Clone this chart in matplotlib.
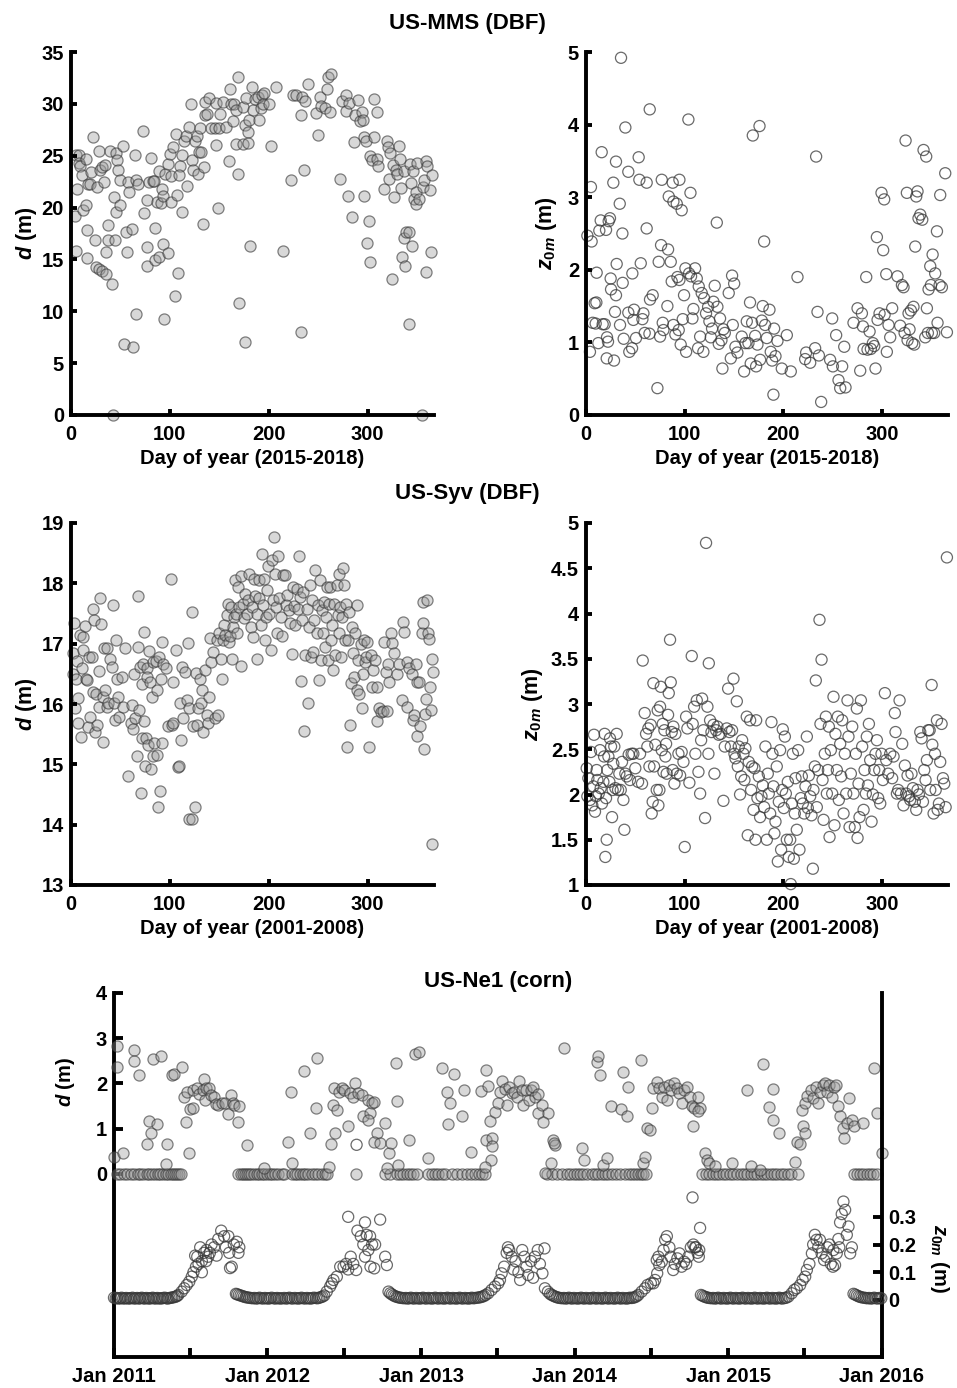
import numpy as np
import matplotlib
matplotlib.use('Agg')
import matplotlib.pyplot as plt
import matplotlib.dates as mdates
from datetime import datetime

plt.rcParams['font.family'] = ['Liberation Sans', 'DejaVu Sans']
plt.rcParams['font.weight'] = 'bold'
plt.rcParams['mathtext.fontset'] = 'custom'
plt.rcParams['mathtext.it'] = 'Liberation Sans:italic:bold'
plt.rcParams['mathtext.rm'] = 'Liberation Sans:bold'
plt.rcParams['mathtext.bf'] = 'Liberation Sans:bold'

# ---- US-MMS (DBF): (day of year, d [m])
mms_d = [
    (4, 19.2), (5.4, 15.8), (6.4, 21.8), (5, 25.1), (8.4, 25.1), (8, 24.3), (9, 24.0), (11.4, 23.1), (12, 19.8), (15, 24.7),
    (14.8, 20.2), (16.5, 17.8), (16.5, 15.1), (17.5, 22.3), (19, 22.3), (20, 23.4), (22.6, 26.8), (24.6, 16.9), (25.6, 14.3), (26.6, 22.0),
    (28.3, 25.5), (29.3, 23.6), (28.6, 14.1), (31.3, 13.9), (31.6, 23.9), (33.3, 22.5), (34.7, 24.1), (35.4, 13.6), (35.4, 15.7), (37.7, 18.3),
    (37, 16.9), (39.4, 25.5), (41.8, 12.6), (42.8, 0), (43.4, 21.0), (44.4, 16.9), (45, 19.6), (46, 25.3), (46.7, 24.6), (47.8, 23.6),
    (49.5, 22.7), (50, 20.2), (52.9, 25.9), (54, 6.8), (55.2, 17.6), (56.2, 15.7), (57.2, 22.5), (59, 21.5), (61.6, 17.9), (62.3, 6.6),
    (64.6, 25.1), (65.7, 9.7), (65.3, 22.7), (68, 22.3), (73, 27.4), (74, 19.5), (76.4, 20.7), (77, 16.2), (76.4, 14.4), (78.8, 22.5),
    (80.5, 24.8), (82.5, 22.6), (83.8, 22.6), (85, 18.0), (85, 14.9), (86.9, 20.5), (88.6, 15.2), (89.2, 23.5), (90.9, 20.4), (92.3, 21.8),
    (92.6, 16.5), (93.3, 21.1), (94, 9.3), (95.3, 23.2), (97.6, 24.2), (98.3, 15.6), (99.7, 25.2), (100.7, 20.5), (102.7, 25.8), (101, 23.0),
    (104.7, 11.5), (106, 27.1), (106.7, 21.2), (108.4, 13.7), (110, 24.0), (109.4, 23.1), (112, 19.6), (112.5, 25.1), (114.5, 26.4), (115.8, 26.9),
    (117.2, 22.1), (119, 27.8), (121, 30.0), (122.2, 24.6), (123, 23.6), (125, 26.4), (127, 26.9), (128, 23.2), (129.6, 25.4), (131.3, 25.4),
    (130.3, 27.7), (133.3, 18.4), (134.3, 23.9), (135, 28.9), (135.7, 30.2), (137.7, 29.0), (139.7, 30.6), (141.8, 27.7), (145.5, 27.7), (146.5, 26.0),
    (147, 30.1), (149, 20.0), (149.8, 27.7), (150.8, 29.0), (153.9, 30.2), (157, 27.8), (159.6, 24.5), (160.6, 31.4), (162, 30.0), (164, 28.3),
    (165.3, 30.0), (166.7, 26.1), (167.3, 29.4), (168.4, 32.6), (169, 23.2), (169.4, 10.8), (174, 26.1), (174, 29.7), (176, 7.0), (176, 28.0),
    (177.4, 30.6), (178.8, 27.3), (178.8, 26.2), (179.5, 28.4), (180.8, 16.3), (182.5, 31.6), (184.2, 29.4), (186.2, 30.5), (189, 30.7), (189.6, 28.4),
    (191.6, 29.6), (192.6, 30.9), (194.3, 30.0), (195.3, 31.0), (199.7, 30.0), (202.7, 25.9), (207.7, 31.6), (214.5, 15.8), (222.9, 22.7), (224.6, 30.9),
    (227.3, 30.9), (232.7, 28.9), (232.7, 8.0), (233.3, 30.7), (235.4, 23.6), (236.4, 30.3), (239.7, 31.9), (248, 29.1), (249.8, 27.0), (251.5, 30.7),
    (253, 29.8), (256.6, 29.6), (259, 31.4), (260, 32.6), (261.6, 29.2), (263.3, 32.9), (271.7, 22.8), (274.4, 30.3), (277.8, 30.9), (278.5, 29.3),
    (280, 21.1), (281, 30.1), (284.2, 19.1), (285.9, 26.3), (286.9, 28.9), (290.3, 30.4), (291.9, 28.3), (294.3, 29.2), (295.3, 28.4), (296.3, 21.1),
    (296.3, 26.8), (298, 26.4), (299.3, 16.6), (301, 18.7), (302, 25.0), (302, 14.8), (304, 24.6), (306, 30.5), (306, 26.8), (309, 24.7),
    (309, 29.2), (310.6, 24.0), (316, 21.8), (319, 26.4), (320, 25.8), (322, 22.8), (323, 25.3), (325, 13.1), (325.6, 24.1), (326.3, 21.0),
    (328.3, 23.6), (330, 23.2), (331.6, 25.9), (332.3, 24.7), (333.7, 21.9), (335, 15.2), (336.4, 17.1), (337, 23.5), (337.7, 14.4), (339, 17.6),
    (341.8, 8.8), (341.8, 17.6), (343, 24.2), (344, 22.4), (344.5, 16.3), (345.8, 23.5), (346.8, 20.8), (348.5, 20.3), (349, 21.5), (350, 24.3),
    (351.8, 20.8), (355, 0), (356, 22.0), (357, 22.7), (358.6, 13.8), (359, 24.5), (359.9, 24.0), (362.6, 21.7), (364.3, 15.7), (365, 23.1),
]

# ---- US-MMS (DBF): (day of year, z0m [m])
mms_z = [
    (1.4, 2.47), (4, 0.87), (5, 3.14), (5.7, 2.39), (6.8, 1.27), (8.8, 1.54), (9.8, 1.26), (10.8, 1.96), (10.5, 1.55), (12.5, 0.99),
    (13.5, 2.54), (14.9, 2.68), (15.9, 3.62), (16.9, 1.25), (18.9, 1.25), (20.3, 2.55), (21, 0.78), (21.3, 1.07), (22.3, 1.01), (23, 2.67),
    (24.3, 2.71), (25, 1.88), (25.4, 1.73), (27.7, 3.20), (28.4, 0.75), (29.4, 1.42), (30.4, 3.49), (30.4, 1.65), (31.1, 2.08), (34.2, 2.91),
    (34.5, 1.24), (35.5, 4.92), (36.9, 2.50), (37.2, 1.82), (38.2, 1.05), (39.9, 3.96), (42.9, 3.35), (42.9, 1.41), (43.9, 0.87), (46.7, 0.92),
    (47, 1.95), (48, 1.31), (48.7, 1.45), (50.7, 1.06), (53.4, 3.55), (54.1, 3.24), (55.5, 2.09), (57.2, 1.32), (58.2, 1.40), (59.5, 1.13),
    (61.5, 3.20), (61.5, 2.57), (64.3, 1.12), (64.6, 4.21), (64.9, 1.59), (67.6, 1.65), (72.4, 0.37), (73.7, 2.11), (75.1, 1.08), (76.1, 2.34),
    (76.8, 3.24), (77.8, 1.27), (78.5, 1.17), (82.5, 1.50), (83.2, 2.28), (83.9, 3.01), (85.9, 2.11), (86.9, 1.84), (87.9, 3.20), (88.6, 2.94),
    (88.6, 1.24), (90.6, 1.11), (92, 2.91), (92.7, 1.90), (94, 1.17), (94.7, 3.24), (94.7, 1.86), (96, 0.97), (97, 2.82), (98.1, 1.32),
    (99.4, 1.65), (100.8, 2.02), (101.5, 0.87), (103.8, 4.07), (104.5, 1.95), (105.9, 3.06), (106.5, 1.91), (107.9, 1.33), (108.9, 1.46), (110.6, 2.02),
    (112.3, 1.88), (113.6, 0.92), (114.3, 1.77), (115.7, 1.08), (117.3, 1.68), (119, 0.87), (119.7, 1.61), (121.7, 1.40), (123.8, 1.49), (125.1, 1.29),
    (126.5, 1.07), (127.8, 1.19), (129.2, 1.56), (130.5, 1.78), (132.6, 2.65), (133.2, 1.49), (134.6, 0.98), (135.9, 1.33), (137.3, 1.03), (138.3, 0.64),
    (139.3, 1.18), (140.7, 1.13), (144.7, 1.68), (146.8, 0.78), (148.1, 1.92), (148.8, 1.24), (150.2, 1.81), (151.5, 0.94), (153.5, 0.86), (157.9, 1.08),
    (160.3, 0.60), (161.6, 0.99), (163, 1.29), (164.7, 0.99), (166.3, 1.55), (167, 0.71), (168.4, 1.27), (169.1, 3.85), (171.5, 1.09), (172.5, 0.67),
    (173.8, 0.97), (175.9, 3.98), (176.5, 0.76), (178.2, 1.30), (179.2, 1.50), (180.6, 2.39), (181.6, 1.24), (183.3, 1.06), (186, 1.45), (187.3, 0.87),
    (188.7, 0.75), (190, 0.28), (190.7, 1.19), (192.1, 0.81), (194.1, 1.02), (198.5, 0.64), (203.6, 1.10), (207.6, 0.60), (214.4, 1.90), (222.2, 0.77),
    (223.2, 0.86), (227.3, 0.72), (232.3, 0.92), (233.3, 3.56), (234.7, 1.42), (236.1, 0.82), (238.4, 0.18), (247.5, 0.76), (249.6, 1.33), (250.3, 0.67),
    (253.6, 1.10), (256, 0.48), (257.7, 0.37), (259.7, 0.67), (261.8, 0.94), (263.1, 0.38), (271.2, 1.27), (275.3, 1.47), (278, 0.61), (279.7, 1.40),
    (280.7, 1.22), (281.4, 0.91), (284.1, 1.90), (285.4, 0.90), (287.5, 1.15), (288.8, 0.91), (290.8, 0.99), (292.2, 0.95), (293.5, 0.64), (294.9, 2.45),
    (295.6, 1.31), (297.6, 1.40), (299.6, 3.06), (301.3, 2.27), (302.3, 2.97), (302.7, 1.38), (304.4, 1.94), (305, 0.87), (306.7, 1.24), (308.4, 1.07),
    (310.4, 1.47), (315.8, 1.91), (318.5, 1.23), (320.3, 1.79), (321.9, 1.76), (323, 1.13), (324, 3.78), (325.3, 3.06), (326, 1.03), (327, 1.40),
    (328, 1.18), (329.4, 1.44), (330.7, 0.99), (332, 1.49), (332.8, 0.97), (333.8, 2.32), (334.8, 3.01), (336.1, 3.08), (337.1, 2.71), (338.9, 2.76),
    (340.9, 2.69), (342.2, 3.65), (343.9, 1.07), (344.9, 3.56), (345.6, 1.47), (346.6, 1.13), (347.3, 1.73), (349, 2.05), (349.7, 1.79), (350.7, 1.13),
    (351.4, 2.21), (353, 1.13), (354, 1.95), (355.8, 2.53), (356.4, 1.27), (358.5, 1.79), (359.1, 3.03), (360.8, 1.76), (364.2, 3.33), (365.9, 1.14),
]

# ---- US-Syv (DBF): (day of year, d [m])
syv_d = [
    (1.7, 16.85), (3, 17.35), (1.7, 16.5), (4, 15.94), (5, 16.42), (5.7, 16.71), (7.4, 15.68), (7.4, 16.10), (9, 17.14), (10, 15.46),
    (10.8, 16.6), (11.8, 17.11), (12.5, 16.89), (14, 17.29), (15.2, 16.42), (16.5, 16.39), (17.5, 15.62), (18.5, 16.78), (19.2, 15.79), (21, 16.78),
    (22, 17.58), (22.6, 16.2), (23.3, 17.39), (24.3, 15.54), (25.3, 16.17), (26.6, 15.65), (28, 16.55), (28.6, 15.95), (29.3, 17.76), (30, 17.32),
    (32, 16.12), (32.7, 15.37), (33.7, 16.92), (34.4, 16.24), (36, 16.92), (36.7, 15.95), (37.7, 16.01), (39.4, 16.75), (41, 16.62), (42, 17.64),
    (43.5, 16.01), (44.5, 15.73), (45.5, 17.06), (46.2, 16.42), (47.2, 16.11), (48.9, 15.79), (52, 16.45), (53, 15.95), (54.6, 16.92), (58, 14.81),
    (60.3, 15.68), (61.3, 15.98), (63, 15.58), (64, 16.5), (64.7, 15.77), (66.4, 15.14), (67.4, 17.79), (68, 16.95), (69, 15.9), (69.8, 16.62),
    (70.8, 14.52), (71.5, 16.33), (72, 15.44), (73, 16.67), (73.8, 15.71), (74, 17.2), (75, 14.97), (75.8, 15.43), (76.5, 16.6), (77.2, 16.45),
    (78.2, 15.32), (79.2, 16.88), (80, 16.37), (80.9, 14.93), (81.6, 16.12), (82.6, 15.14), (83.2, 16.7), (84.3, 15.35), (86, 16.72), (86.6, 16.23),
    (87.3, 15.16), (88.3, 14.3), (89.3, 16.78), (90, 14.56), (90.7, 16.41), (91.7, 17.03), (92.3, 15.36), (93.4, 16.67), (96, 16.59), (98.4, 15.64),
    (101, 18.08), (101.8, 15.65), (103.5, 15.68), (103.5, 16.37), (106, 16.9), (107.9, 14.96), (109.2, 14.97), (110.2, 16.01), (111.2, 15.4), (112.2, 16.62),
    (112.9, 15.76), (115.3, 16.53), (117, 16.07), (118, 17.01), (119.3, 15.93), (119.6, 14.1), (122, 17.53), (122, 14.1), (123.7, 15.64), (125.4, 14.3),
    (126, 16.51), (127, 15.65), (128.7, 15.93), (130.4, 16.42), (131.4, 16.01), (132.8, 16.24), (133.8, 15.54), (135.5, 16.57), (137.2, 15.82), (138.9, 15.68),
    (139.9, 16.11), (140.5, 17.1), (141.9, 16.7), (143.2, 16.86), (145.6, 15.76), (147.3, 17.06), (149, 15.82), (150, 17.18), (151.3, 16.74), (153, 16.41),
    (154, 17.06), (155, 17.31), (156, 17.15), (157.4, 17.47), (158.4, 17.65), (159.4, 17.03), (160.8, 17.13), (161.8, 17.61), (162.8, 16.74), (163.5, 17.28),
    (164.8, 17.44), (165.5, 18.05), (166.8, 17.5), (167.5, 17.17), (168.9, 17.94), (170.2, 17.61), (171.6, 16.63), (172.2, 18.12), (173.6, 17.66), (174.9, 17.42),
    (176.3, 17.83), (177.6, 17.5), (179, 17.73), (180.3, 18.16), (181.7, 17.28), (183, 17.61), (184.4, 17.11), (185.4, 18.08), (186.4, 17.79), (187.7, 16.75),
    (188.4, 17.5), (189.8, 18.05), (190.4, 17.75), (191.8, 17.31), (192.8, 18.48), (193.8, 17.64), (195.1, 18.08), (196.2, 17.06), (197.2, 17.44), (198.5, 17.89),
    (199.5, 18.28), (200.5, 17.5), (201.9, 16.9), (202.9, 18.38), (203.9, 17.72), (205.3, 18.76), (206.3, 18.16), (207.3, 17.61), (208.6, 17.18), (209.6, 18.45),
    (210.6, 17.75), (212, 17.44), (213, 17.12), (214, 18.13), (216.4, 18.13), (217.4, 17.64), (218.7, 17.8), (220, 17.55), (221.4, 17.34), (223.1, 16.83),
    (224.1, 17.94), (225.5, 17.63), (226.8, 17.31), (228.2, 17.91), (229.2, 17.57), (230.9, 18.45), (231.5, 17.78), (232.6, 16.38), (233.6, 17.39), (234.9, 17.85),
    (235.9, 15.56), (236.9, 16.81), (238.3, 17.58), (239.6, 16.01), (240.6, 17.28), (241.7, 17.98), (243, 16.78), (244, 17.72), (245, 16.86), (246, 17.39),
    (247, 18.22), (248.4, 17.17), (249.4, 17.64), (250.4, 16.4), (251.4, 18.05), (252.4, 16.73), (253.5, 17.55), (254.5, 17.17), (255.8, 17.69), (256.8, 16.95),
    (257.8, 17.44), (259.2, 17.94), (260.2, 16.73), (261.2, 17.65), (261.9, 17.94), (263.2, 17.06), (264.2, 17.31), (265.3, 16.57), (266.3, 17.65), (267.3, 16.81),
    (268.6, 17.97), (269.6, 17.47), (270.6, 18.16), (271.3, 17.18), (272, 17.61), (273, 16.78), (274, 17.44), (275.4, 18.26), (276, 17.97), (277, 17.06),
    (278.1, 17.65), (278.7, 15.29), (279.7, 17.06), (280.8, 17.53), (282.1, 15.65), (283.1, 16.34), (284.1, 17.28), (285.5, 16.84), (286.5, 16.45), (287.5, 17.17),
    (288.8, 16.23), (289.5, 17.64), (290.5, 16.73), (291.5, 16.17), (292.9, 17.0), (293.9, 15.93), (294.9, 16.5), (296.3, 17.06), (297.3, 16.7), (298.3, 16.78),
    (299, 17.03), (301.6, 15.29), (303, 16.81), (304.3, 16.28), (305.7, 16.56), (307.4, 16.73), (309, 16.28), (309.7, 15.71), (311.7, 15.93), (313.1, 15.87),
    (315.1, 15.89), (316.5, 17.03), (318.2, 16.53), (319.2, 15.89), (320.2, 16.67), (321.9, 16.37), (323.2, 17.17), (324.6, 17.01), (326.6, 16.84), (329.3, 16.5),
    (332, 16.67), (334.3, 16.06), (336, 17.36), (337, 17.2), (339.4, 16.7), (340, 15.95), (342, 16.59), (344.5, 16.5), (345.5, 15.73), (347.2, 15.82),
    (348.8, 16.67), (349.5, 16.37), (350.2, 15.47), (351.5, 16.37), (352.9, 15.63), (354.6, 17.17), (355.6, 17.34), (356.3, 17.69), (356.9, 15.25), (357.6, 15.84),
    (359, 16.09), (360.3, 17.72), (361, 17.17), (362, 17.07), (363, 16.28), (363.7, 15.9), (365, 13.68), (365, 16.75), (365.7, 16.53),
]

# ---- US-Syv (DBF): (day of year, z0m [m])
syv_z = [
    (0.7, 2.29), (1.4, 1.98), (2.4, 2.18), (4, 1.94), (5, 2.47), (6.4, 1.88), (7.4, 2.09), (8.1, 2.66), (9.1, 1.81), (10.1, 1.98),
    (10.8, 2.27), (11.5, 2.16), (12.9, 2.01), (14.2, 2.49), (14.9, 2.07), (16.2, 1.9), (17.6, 2.14), (18.3, 2.42), (18.9, 2.67), (19.6, 1.31),
    (20.3, 1.96), (21, 1.5), (21.6, 2.27), (22.7, 2.42), (23.7, 2.14), (24.3, 2.62), (25.4, 2.53), (26.4, 1.75), (27, 2.05), (27.7, 2.34),
    (28.7, 2.53), (29.8, 2.07), (31.1, 2.67), (32.5, 2.05), (33.8, 2.23), (35.2, 2.05), (36.5, 2.36), (37.9, 1.94), (38.9, 1.61), (39.9, 2.23),
    (41.3, 2.2), (43.3, 2.44), (44.6, 2.16), (46.3, 2.45), (48, 2.45), (50, 2.29), (52.8, 2.14), (54.8, 2.45), (56.8, 2.12), (57.5, 3.48),
    (59.5, 2.9), (60.9, 2.67), (62.2, 2.53), (63.2, 2.73), (64.3, 2.31), (65.6, 2.77), (66.6, 1.79), (67.6, 1.92), (68.3, 3.23), (69, 2.31),
    (70.3, 2.55), (71.7, 2.05), (72.7, 2.93), (73.4, 1.88), (74.4, 2.05), (75.1, 2.97), (75.8, 3.19), (76.8, 2.49), (77.8, 2.78), (78.5, 2.25),
    (79.5, 2.71), (80.5, 2.42), (81.2, 2.56), (81.8, 2.23), (83.2, 2.88), (83.9, 3.12), (85.2, 3.71), (85.9, 3.24), (86.9, 2.69), (87.9, 2.27),
    (88.6, 2.75), (89.6, 2.12), (90.6, 2.67), (92, 2.23), (93.7, 2.45), (95.4, 2.21), (97, 2.47), (98.8, 2.36), (100.1, 1.42), (101.5, 2.86),
    (102.8, 2.73), (104.8, 2.13), (107.2, 3.53), (108.2, 2.78), (109.6, 2.97), (110.9, 2.45), (112.3, 3.04), (114, 2.25), (115.7, 2.01), (116.7, 2.6),
    (117.7, 3.06), (119, 2.71), (120.7, 1.74), (121.7, 4.78), (123.1, 2.97), (124.1, 2.45), (124.5, 3.45), (125.8, 2.82), (127.2, 2.69), (129.2, 2.77),
    (130.2, 2.23), (131.9, 2.71), (133.2, 2.75), (134.6, 2.66), (136.6, 2.67), (139.3, 1.93), (140.7, 2.53), (142.7, 2.73), (144.1, 3.17), (145.4, 2.69),
    (146.8, 2.53), (148.1, 2.71), (149.5, 3.28), (150.5, 2.45), (151.5, 2.4), (152.9, 3.03), (153.9, 2.31), (154.9, 2.53), (156.2, 2.0), (157.3, 2.2),
    (158.3, 2.6), (159.6, 2.45), (160.6, 2.16), (161.6, 2.51), (163, 2.86), (164, 1.55), (165, 2.36), (166.4, 2.82), (167.4, 2.05), (168.4, 2.31),
    (169.8, 1.83), (170.8, 2.29), (171.8, 1.5), (172.5, 2.82), (173.8, 1.96), (175.2, 2.2), (176.5, 1.75), (177.9, 1.98), (179.2, 2.1), (180.6, 1.86),
    (181.9, 2.53), (183.3, 1.5), (184.3, 2.23), (185.3, 2.01), (186.7, 1.79), (188, 2.8), (189, 2.45), (190, 2.09), (191, 1.57), (192.1, 1.7),
    (193.4, 2.31), (194.5, 1.26), (195.5, 1.92), (196.8, 2.49), (197.8, 1.39), (198.8, 2.05), (199.5, 2.72), (200.5, 1.85), (201.6, 2.64), (202.6, 2.01),
    (203.6, 1.5), (204.6, 2.14), (205.6, 1.31), (207, 1.5), (207.6, 1.01), (208.7, 1.9), (209.7, 2.45), (210.7, 1.29), (211.7, 1.79), (212.4, 2.18),
    (213.7, 1.61), (215.1, 2.49), (216.4, 1.39), (217.8, 1.96), (218.8, 2.2), (219.8, 1.9), (221.2, 1.79), (222.5, 2.09), (223.9, 2.64), (224.9, 1.85),
    (225.9, 2.21), (227.3, 1.98), (228.6, 1.77), (230, 1.18), (230.6, 2.05), (232, 2.31), (233, 3.26), (234, 1.86), (235.4, 2.27), (236.7, 3.93),
    (237.7, 2.78), (238.8, 3.49), (239.8, 2.16), (240.8, 1.72), (242.1, 2.45), (243.2, 2.86), (244.2, 2.01), (245.2, 2.27), (246.2, 2.75), (246.9, 1.53),
    (248.2, 2.49), (249.6, 2.01), (250.9, 3.08), (251.9, 1.66), (252.9, 2.67), (254.3, 2.27), (255.3, 2.86), (256.3, 1.94), (257.7, 2.56), (258.7, 2.2),
    (259.7, 2.82), (261.1, 1.79), (262.4, 2.45), (263.8, 2.01), (265.1, 3.04), (266.1, 2.64), (267.2, 1.64), (268.5, 2.23), (269.9, 2.75), (271.2, 2.01),
    (272.6, 1.64), (273.6, 2.45), (274.6, 2.95), (275.3, 1.52), (276.3, 2.12), (277.3, 1.75), (278.7, 3.04), (280, 2.53), (281.4, 1.83), (282.4, 2.27),
    (283.7, 2.01), (284.7, 2.64), (285.8, 2.1), (286.8, 2.78), (288.1, 2.38), (289.5, 1.7), (290.8, 2.0), (292.2, 2.27), (293.5, 2.45), (294.9, 2.6),
    (296.2, 1.96), (297.3, 2.27), (298.3, 1.9), (299.6, 2.45), (301, 2.16), (303, 3.12), (304.4, 2.38), (306.4, 2.23), (308.4, 2.45), (310.4, 2.18),
    (311.8, 2.42), (313.1, 2.9), (313.8, 2.69), (315.2, 2.01), (316.5, 2.05), (317.9, 3.04), (319.2, 2.01), (320.6, 2.56), (321.9, 1.88), (323.3, 2.32),
    (324.6, 2.01), (326, 2.21), (327.4, 1.98), (328.7, 1.94), (330, 2.23), (331.4, 2.07), (333.4, 1.92), (334.8, 1.83), (336.1, 2.05), (337.5, 2.0),
    (338.9, 2.69), (340.2, 2.62), (341.6, 1.92), (342.9, 2.27), (344.3, 2.16), (345.6, 2.38), (347, 2.71), (348.4, 2.71), (349, 2.05), (350.4, 3.21),
    (351.1, 2.55), (352.4, 1.79), (353.8, 2.45), (354.5, 2.05), (355.8, 2.82), (356.5, 1.83), (357.8, 1.9), (359.1, 2.36), (360.5, 2.78), (361.9, 2.18),
    (363.2, 2.12), (364.6, 1.86), (365.9, 4.62),
]

# ---- US-Ne1 (corn): days since 1 Jan 2011
ne1_d = [
    (0, 0.38), (6, 2.36), (8, 2.83), (22, 0.46), (48, 2.73), (48, 2.5), (60, 2.19), (92, 2.54), (111, 2.6), (137, 2.19),
    (143, 2.21), (162, 2.37), (84, 1.18), (87, 0.91), (103, 1.1), (79, 0.66), (125, 0.66), (124, 0.22), (179, 0.47), (171, 1.14),
    (167, 1.71), (174, 1.82), (181, 1.43), (189, 1.45), (187, 1.86), (198, 1.9), (203, 1.77), (213, 2.1), (211, 1.86), (216, 1.64),
    (220, 1.9), (227, 1.9), (231, 1.75), (238, 1.71), (243, 1.55), (248, 1.52), (256, 1.56), (264, 1.56), (272, 1.33), (278, 1.75),
    (282, 1.56), (285, 1.52), (294, 1.14), (298, 1.49), (317, 0.64),
    (357, 0.12), (415, 0.71), (420, 1.8), (423, 0.24), (452, 2.28), (466, 0.91), (480, 1.45), (484, 2.56), (512, 0.16), (515, 0.66),
    (520, 1.53), (523, 1.9), (526, 0.9), (530, 1.42), (536, 1.8), (543, 1.9), (546, 1.86), (557, 1.05), (561, 1.79), (569, 1.71),
    (573, 2.02), (576, 0), (581, 1.79), (589, 1.75), (593, 1.27), (603, 1.64), (613, 1.56), (619, 1.6), (609, 1.34), (605, 1.19),
    (625, 0.91), (619, 0.71), (633, 0.69), (645, 1.12), (653, 0.46), (660, 0.68), (649, 0.13), (675, 0.2), (670, 2.45), (672, 1.62),
    (702, 0.75), (716, 2.64), (725, 2.7),
    (746, 0.36), (779, 2.34), (809, 2.21), (791, 1.82), (798, 1.56), (795, 1.11), (827, 1.28), (833, 1.86), (849, 0.49), (874, 1.84),
    (884, 2.29), (890, 1.95), (886, 0.74), (900, 0.79), (898, 0.62), (897, 0.3), (882, 0.16), (894, 1.16), (906, 1.36), (914, 1.56),
    (922, 2.06), (918, 1.82), (930, 1.87), (934, 1.53), (940, 1.93), (946, 1.78), (952, 1.82), (958, 1.71), (963, 2.06), (970, 1.86),
    (974, 1.53), (981, 1.86), (987, 1.64), (993, 1.86), (997, 1.93), (1001, 1.69), (1009, 1.77), (1008, 1.34), (1017, 1.53), (1032, 1.34),
    (1021, 1.14), (1045, 0.74), (1049, 0.64), (1039, 0.24), (1025, 0.01),
    (1047, 0.68), (1071, 2.78), (1112, 0.57), (1119, 0.31), (1150, 2.48), (1152, 2.61), (1156, 2.19), (1162, 0.2), (1172, 0.35), (1182, 1.5),
    (1207, 1.43), (1211, 2.26), (1219, 1.28), (1223, 1.93),
    (1253, 2.52), (1259, 0.25), (1263, 0.38), (1267, 1.01), (1275, 0.96), (1280, 1.45), (1283, 1.89), (1292, 2.04), (1297, 1.89), (1303, 1.71),
    (1308, 1.93), (1315, 1.64), (1321, 1.96), (1326, 1.86), (1332, 2.0), (1338, 1.89), (1345, 1.78), (1350, 1.56), (1356, 1.86), (1362, 1.93),
    (1369, 1.71), (1374, 1.49), (1380, 1.45), (1388, 1.71), (1394, 1.45), (1376, 1.05), (1390, 1.4), (1406, 0.46), (1410, 0.31), (1416, 0.24),
    (1430, 0.18), (1469, 0.24), (1514, 0.18), (1537, 0.09),
    (1505, 1.86), (1543, 2.43), (1557, 1.47), (1567, 1.87), (1568, 1.2), (1581, 0.9), (1620, 0.27), (1624, 0.71), (1632, 0.67), (1638, 1.05),
    (1644, 0.9), (1636, 1.41), (1644, 1.56), (1649, 1.73), (1657, 1.86), (1663, 1.67), (1670, 1.93), (1675, 1.56), (1679, 1.82), (1686, 1.96),
    (1691, 2.0), (1695, 1.82), (1701, 1.96), (1707, 1.71), (1713, 1.93), (1717, 1.96), (1723, 1.49), (1728, 1.28), (1733, 1.01), (1737, 0.79),
    (1743, 1.12), (1749, 1.67), (1755, 1.2), (1759, 1.05), (1782, 1.12), (1808, 2.34), (1814, 1.34), (1826, 0.47),
]

# days with d = 0 (bare soil)
ne1_d_zero_days = [
    6, 14, 23, 32, 40, 48, 58, 63, 70, 78, 84, 90, 97, 104, 109, 117, 124, 129, 135, 140, 145, 149, 154, 159,
    296, 301, 306, 312, 316, 322, 327, 333, 339, 346, 352, 357, 363, 370, 376, 383, 391, 399, 404,
    423, 430, 436, 442, 449, 455, 462, 470, 478, 486, 494, 502, 507,
    645, 656, 672, 680, 688, 696, 704, 712, 720, 748, 756, 764, 771, 779, 787,
    805, 815, 827, 839, 849, 859, 868, 876, 882,
    1029, 1041, 1053, 1065, 1077, 1085, 1093, 1101, 1108, 1116, 1124, 1136, 1144, 1152, 1160, 1168, 1176, 1184, 1193,
    1204, 1215, 1225, 1231, 1239, 1247, 1253, 1259, 1265,
    1398, 1408, 1416, 1424, 1432, 1440, 1448, 1456, 1465, 1473, 1483, 1491, 1499, 1506, 1514, 1522, 1530, 1538, 1546,
    1554, 1562, 1570, 1578, 1586, 1594, 1602, 1610, 1628,
    1759, 1767, 1775, 1782, 1790, 1798, 1806, 1814,
]

ne1_z = [
    # 2011
    (0, .008), (4, .006), (7, .007), (11, .005), (15, .006), (18, .008), (22, .005), (26, .006), (29, .007), (33, .005),
    (37, .006), (40, .006), (44, .008), (48, .005), (51, .006), (55, .007), (59, .005), (62, .006), (66, .008), (70, .006),
    (73, .005), (77, .007), (81, .006), (84, .005), (88, .006), (92, .008), (95, .006), (99, .005), (103, .007), (106, .006),
    (110, .005), (114, .006), (117, .007), (121, .008), (125, .006), (128, .005), (132, .007), (136, .008), (139, .009), (143, .010),
    (147, .012), (150, .014),
    (153, 0.018), (161, 0.03), (167, 0.042), (173, 0.054), (179, 0.066), (185, 0.084), (189, 0.1), (195, 0.12), (201, 0.13), (193, 0.16),
    (198, 0.156), (205, 0.19), (209, 0.14), (214, 0.17), (219, 0.14), (220, 0.18), (224, 0.156), (228, 0.17), (232, 0.2), (238, 0.19),
    (244, 0.16), (248, 0.22), (255, 0.25), (262, 0.23), (266, 0.19), (272, 0.23), (274, 0.17), (280, 0.12), (285, 0.2), (292, 0.21),
    (296, 0.17), (298, 0.19), (276, 0.115), (209, 0.1),
    (290, .022), (293, .020), (297, .018), (301, .016), (305, .014), (309, .012), (313, .010), (317, .009), (321, .008), (325, .007),
    (330, .006), (334, .007), (338, .005), (342, .006), (346, .008), (350, .006), (355, .005), (359, .007), (363, .006), (367, .005),
    (371, .006), (375, .008), (380, .006), (384, .005), (388, .007), (392, .006), (396, .005), (400, .006), (405, .007), (409, .005),
    (413, .006), (417, .008), (421, .006), (425, .005), (430, .007), (434, .006), (438, .005), (442, .006), (446, .008), (450, .006),
    (455, .005), (459, .007), (463, .006), (467, .005), (471, .006), (475, .008), (480, .007), (484, .006), (488, .008), (492, .010),
    (496, .012), (500, .016),
    # 2012
    (506, 0.03), (514, 0.048), (518, 0.06), (522, 0.072), (530, 0.084), (538, 0.12), (546, 0.12), (552, 0.13), (557, 0.11), (557, 0.3),
    (563, 0.156), (569, 0.13), (576, 0.108), (579, 0.25), (587, 0.23), (593, 0.2), (597, 0.156), (597, 0.28), (601, 0.235), (605, 0.18),
    (609, 0.23), (610, 0.12), (614, 0.2), (619, 0.114), (621, 0.2), (633, 0.29), (645, 0.156), (649, 0.126), (577, 0.56),
    (653, .030), (657, .024), (661, .020), (665, .016), (669, .013), (673, .011), (677, .009), (681, .008), (685, .007), (690, .006),
    (694, .007), (698, .005), (702, .006), (706, .008), (710, .006), (714, .005), (719, .007), (723, .006), (727, .005), (731, .006),
    (735, .008), (739, .006), (743, .005), (748, .007), (752, .006), (756, .005), (760, .006), (764, .008), (768, .006), (772, .005),
    (777, .007), (781, .006), (785, .005), (789, .006), (793, .008), (797, .006), (801, .005), (806, .007), (810, .006), (814, .005),
    (818, .006), (822, .008), (826, .006), (830, .005), (835, .007), (839, .006), (843, .005), (847, .006), (851, .008), (855, .006),
    (859, .007), (864, .008), (868, .009), (872, .010), (876, .012), (880, .014), (884, .018),
    # 2013
    (890, 0.024), (898, 0.036), (906, 0.048), (914, 0.06), (918, 0.072), (922, 0.096), (928, 0.12), (934, 0.17), (940, 0.18), (946, 0.156),
    (950, 0.11), (955, 0.14), (962, 0.1), (966, 0.072), (971, 0.18), (976, 0.156), (981, 0.12), (985, 0.09), (992, 0.14), (997, 0.08),
    (1001, 0.156), (1008, 0.18), (1013, 0.13), (1019, 0.096), (1024, 0.186), (1025, 0.042), (1032, 0.03), (1037, 0.022), (937, 0.19),
    (1041, .018), (1045, .015), (1049, .012), (1053, .010), (1057, .008), (1061, .007), (1066, .006), (1070, .007), (1074, .005), (1078, .006),
    (1082, .008), (1086, .006), (1090, .005), (1094, .007), (1099, .006), (1103, .005), (1107, .006), (1111, .008), (1115, .006), (1119, .005),
    (1123, .007), (1128, .006), (1132, .005), (1136, .006), (1140, .008), (1144, .006), (1148, .005), (1152, .007), (1157, .006), (1161, .005),
    (1165, .006), (1169, .008), (1173, .006), (1177, .005), (1181, .007), (1186, .006), (1190, .005), (1194, .006), (1198, .008), (1202, .006),
    (1206, .005), (1210, .007), (1215, .006), (1219, .005), (1223, .006), (1227, .008), (1231, .007), (1235, .008), (1239, .010), (1243, .013),
    # 2014
    (1247, 0.018), (1255, 0.03), (1263, 0.042), (1269, 0.054), (1277, 0.06), (1283, 0.06), (1287, 0.072), (1292, 0.096), (1297, 0.126), (1295, 0.156),
    (1291, 0.144), (1303, 0.138), (1307, 0.18), (1311, 0.217), (1315, 0.23), (1321, 0.19), (1324, 0.156), (1330, 0.108), (1334, 0.13), (1340, 0.15),
    (1345, 0.168), (1350, 0.12), (1356, 0.138), (1361, 0.13), (1366, 0.156), (1372, 0.19), (1378, 0.2), (1384, 0.19), (1388, 0.17), (1391, 0.156),
    (1376, 0.37), (1394, 0.26), (1382, 0.19), (1392, 0.18),
    (1396, .018), (1400, .015), (1404, .012), (1408, .010), (1412, .008), (1416, .007), (1421, .006), (1425, .007), (1429, .005), (1433, .006),
    (1437, .008), (1441, .006), (1445, .005), (1450, .007), (1454, .006), (1458, .005), (1462, .006), (1466, .008), (1470, .006), (1474, .005),
    (1479, .007), (1483, .006), (1487, .005), (1491, .006), (1495, .008), (1499, .006), (1503, .005), (1508, .007), (1512, .006), (1516, .005),
    (1520, .006), (1524, .008), (1528, .006), (1532, .005), (1537, .007), (1541, .006), (1545, .005), (1549, .006), (1553, .008), (1557, .006),
    (1561, .005), (1566, .007), (1570, .006), (1574, .005), (1578, .006), (1582, .008), (1586, .006), (1590, .005), (1595, .007), (1599, .008),
    # 2015
    (1604, 0.012), (1612, 0.024), (1618, 0.036), (1624, 0.042), (1632, 0.054), (1638, 0.072), (1644, 0.084), (1648, 0.108), (1654, 0.13), (1660, 0.168),
    (1663, 0.2), (1667, 0.235), (1671, 0.217), (1675, 0.19), (1679, 0.217), (1683, 0.168), (1689, 0.144), (1694, 0.156), (1697, 0.19), (1702, 0.2),
    (1705, 0.13), (1710, 0.12), (1715, 0.126), (1719, 0.168), (1723, 0.22), (1727, 0.28), (1731, 0.31), (1735, 0.355), (1739, 0.325), (1743, 0.235),
    (1747, 0.265), (1751, 0.168), (1755, 0.19), (1725, 0.19), (1711, 0.18),
    (1759, .022), (1763, .019), (1767, .016), (1771, .013), (1775, .011), (1779, .009), (1784, .008), (1788, .007), (1792, .006), (1796, .007),
    (1800, .005), (1804, .006), (1808, .008), (1812, .006), (1817, .005), (1821, .007), (1825, .006),
]

tick_dates = ['2011-01-01', '2011-07-01', '2012-01-01', '2012-07-01', '2013-01-01', '2013-07-01',
              '2014-01-01', '2014-07-01', '2015-01-01', '2015-07-01', '2016-01-01']
tick_labels = ['Jan 2011', '', 'Jan 2012', '', 'Jan 2013', '', 'Jan 2014', '', 'Jan 2015', '', 'Jan 2016']

# ---------------------------------------------------------------
FILL = dict(s=64, facecolors=(0.6, 0.6, 0.6, 0.38), edgecolors=(0.22, 0.22, 0.22, 0.62), linewidths=0.9)
OPEN = dict(s=64, facecolors='none', edgecolors=(0.22, 0.22, 0.22, 0.75), linewidths=0.9)
LW = 2.8
FS = 14.5

fig = plt.figure(figsize=(9.57, 13.88), dpi=100)


def px_axes(l, t, r, b):
    return fig.add_axes([l / 957, 1 - b / 1388, (r - l) / 957, (b - t) / 1388])


def style(ax, ticklen=4.5):
    ax.spines['top'].set_visible(False)
    ax.spines['right'].set_visible(False)
    ax.spines['left'].set_linewidth(LW)
    ax.spines['bottom'].set_linewidth(LW)
    ax.tick_params(direction='in', length=ticklen, width=LW, labelsize=FS, pad=5)
    ax.tick_params(axis='x', pad=7)


def doy_panel(ax, pts, kw, ylim, yticks, ylabel, xlabel, ypad):
    a = np.array(pts)
    ax.scatter(a[:, 0], a[:, 1], clip_on=False, **kw)
    ax.set_xlim(0, 367)
    ax.set_ylim(*ylim)
    ax.set_xticks([0, 100, 200, 300])
    ax.set_yticks(yticks)
    ax.set_yticklabels(['%g' % t for t in yticks])
    ax.set_xlabel(xlabel, fontsize=FS, fontweight='bold', labelpad=4)
    ax.set_ylabel(ylabel, fontsize=FS + 1, fontweight='bold', labelpad=ypad)
    style(ax)


ax1 = px_axes(71, 52, 434, 415)
doy_panel(ax1, mms_d, FILL, (0, 35), [0, 5, 10, 15, 20, 25, 30, 35], '$d$ (m)', 'Day of year (2015-2018)', 1.5)
ax2 = px_axes(586, 52, 948, 415)
doy_panel(ax2, mms_z, OPEN, (0, 5), [0, 1, 2, 3, 4, 5], '$z_{0m}$ (m)', 'Day of year (2015-2018)', 6)
ax3 = px_axes(71, 523, 434, 885)
doy_panel(ax3, syv_d, FILL, (13, 19), [13, 14, 15, 16, 17, 18, 19], '$d$ (m)', 'Day of year (2001-2008)', 2)
ax4 = px_axes(586, 523, 948, 885)
doy_panel(ax4, syv_z, OPEN, (1, 5), [1, 1.5, 2, 2.5, 3, 3.5, 4, 4.5, 5], '$z_{0m}$ (m)', 'Day of year (2001-2008)', 4)

fig.text(467 / 957, 1 - 23 / 1388, 'US-MMS (DBF)', ha='center', va='center', fontsize=16, fontweight='bold')
fig.text(467 / 957, 1 - 494 / 1388, 'US-Syv (DBF)', ha='center', va='center', fontsize=16, fontweight='bold')
fig.text(498 / 957, 1 - 981 / 1388, 'US-Ne1 (corn)', ha='center', va='center', fontsize=16, fontweight='bold')

# ---- bottom panel: US-Ne1
t0 = mdates.date2num(datetime(2011, 1, 1))
ax5 = px_axes(114, 993, 881.7, 1357)
dd = np.array(ne1_d)
zd = np.array(ne1_d_zero_days, dtype=float)
zz = np.array(ne1_z)
ax5.scatter(np.concatenate([t0 + zd, t0 + dd[:, 0]]), np.concatenate([np.zeros(len(zd)), dd[:, 1]]),
            clip_on=False, zorder=3, **FILL)
ax5.set_xlim(t0, t0 + 1826)
ax5.set_ylim(-4.05, 4)
ax5.set_yticks([0, 1, 2, 3, 4])
ax5.set_xticks([mdates.date2num(datetime.strptime(s, '%Y-%m-%d')) for s in tick_dates])
ax5.set_xticklabels(tick_labels)
style(ax5, ticklen=6.5)
ax5.set_ylabel('$d$ (m)', fontsize=FS, fontweight='bold')
ax5.yaxis.set_label_coords(-0.048, 0.755)

ax6 = ax5.twinx()
ax6.scatter(t0 + zz[:, 0], zz[:, 1], clip_on=False, zorder=3, **OPEN)
ax6.set_ylim(-0.206, 1.108)
ax6.set_xlim(t0, t0 + 1826)
ax6.set_yticks([0, 0.1, 0.2, 0.3])
ax6.set_yticklabels(['0', '0.1', '0.2', '0.3'])
for sp in ['top', 'left', 'bottom']:
    ax6.spines[sp].set_visible(False)
ax6.spines['right'].set_linewidth(LW)
ax6.tick_params(direction='in', length=6.5, width=LW, labelsize=FS, pad=5)
ax6.set_ylabel('$z_{0m}$ (m)', fontsize=FS, fontweight='bold', rotation=270)
ax6.yaxis.set_label_coords(1.09, 0.27)

fig.savefig('out.png', dpi=100)
